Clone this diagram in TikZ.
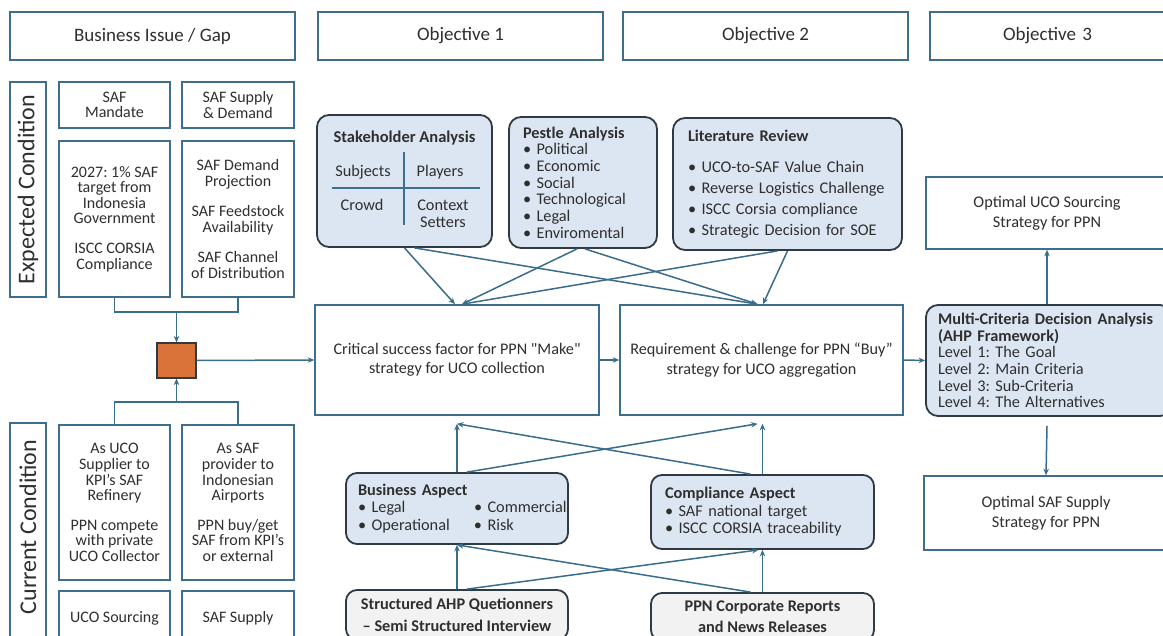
\documentclass[tikz,border=0pt]{standalone}
\usepackage{fontspec}
\setmainfont{Carlito}
\frenchspacing
\usetikzlibrary{arrows.meta,calc}
\definecolor{bd}{HTML}{3F6E8C}
\definecolor{dk}{HTML}{2E3A44}
\definecolor{lb}{HTML}{DCE6F2}
\definecolor{gy}{HTML}{F2F2F2}
\definecolor{tx}{HTML}{2F2F2F}
\definecolor{og}{HTML}{D9733A}
\definecolor{ar}{HTML}{3A6C8C}
\begin{document}
\begin{tikzpicture}[x=1pt,y=-1pt,
 every node/.style={text=tx},
 wh/.style 2 args={minimum width=#1pt,minimum height=#2pt},
 sqb/.style={draw=bd,line width=1.6pt,fill=white,inner sep=0pt,align=center,font=\fontsize{16}{15.6}\selectfont},
 hdr/.style={sqb,font=\fontsize{19}{22}\selectfont},
 rnd/.style={draw=dk,line width=1.8pt,fill=lb,rounded corners=12pt,inner sep=0pt},
 lst/.style={rnd,align=left},
 src/.style={rnd,fill=gy,align=center,font=\fontsize{16.3}{22}\selectfont\bfseries},
 arr/.style={draw=ar,line width=1.5pt,-{Stealth[length=6.5pt,width=5.5pt]}},
 ln/.style={draw=ar,line width=1.5pt},
 gridl/.style={draw=bd,line width=1.6pt},
 sidet/.style={font=\fontsize{24}{26}\selectfont,rotate=90},
 gtxt/.style={font=\fontsize{16.3}{17}\selectfont,align=center}
]
\useasboundingbox (0,0) rectangle (1163,636);
\clip (0,0) rectangle (1163,636);
\fill[white] (0,0) rectangle (1163,636);

% headers
\node[hdr,wh={285}{48}] (hb) at (152.5,36) {Business Issue / Gap};
\node[hdr,wh={285}{48}] (h1) at (460.5,36) {Objective 1};
\node[hdr,wh={285}{48}] (h2) at (765.5,36) {Objective 2};
\node[hdr,wh={245}{48},text width=225pt] (h3) at (1052.5,36) {\hspace*{-10pt}Objective 3};

% left column, expected
\node[sqb,wh={36}{215}] (expc) at (28,189.5) {};
\node[sidet] (expct) at (expc.center) {Expected Condition};
\node[sqb,wh={111}{46}] (bman) at (114.5,105) {SAF\\Mandate};
\node[sqb,wh={112}{46}] (bsd) at (238,105) {SAF Supply\\\& Demand};
\node[sqb,wh={111}{156}] (b2027) at (114.5,219) {2027: 1\% SAF\\target from\\Indonesia\\Government\\[14pt]ISCC CORSIA\\Compliance};
\node[sqb,wh={112}{156}] (bdem) at (238,219) {SAF Demand\\Projection\\[15pt]SAF Feedstock\\Availability\\[15pt]SAF Channel\\of Distribution};

% orange square
\node[draw=dk,line width=1.2pt,fill=og,wh={39}{35},inner sep=0pt] (sq) at (176.5,360.5) {};
\coordinate (j1) at (176.5,312);
\coordinate (j2) at (176.5,402);

% left column, current
\node[sqb,wh={36}{217}] (curc) at (28,531.5) {};
\node[sidet] (curct) at (28,527) {Current Condition};
\node[sqb,wh={111}{155}] (buco) at (114.5,502.5) {As UCO\\Supplier to\\KPI's SAF\\Refinery\\[14pt]PPN compete\\with private\\UCO Collector};
\node[sqb,wh={112}{155}] (bsaf) at (238,502.5) {As SAF\\provider to\\Indonesian\\Airports\\[14pt]PPN buy/get\\SAF from KPI's\\or external};
\node[sqb,wh={111}{54}] (bucs) at (114.5,618) {UCO Sourcing};
\node[sqb,wh={112}{54}] (bss) at (238,618) {SAF Supply};

% top analysis boxes
\node[rnd,wh={175}{132}] (sh) at (404.5,181) {};
\node[font=\fontsize{16.5}{17}\selectfont\bfseries] (sht) at (404.5,138) {Stakeholder Analysis};
\draw[gridl] (404,152) -- (404,225);
\draw[gridl] (332,188) -- (480,188);
\node[gtxt] (shs) at (363,172) {Subjects};
\node[gtxt] (shp) at (440,172) {Players};
\node[gtxt] (shc) at (362,205) {Crowd};
\node[gtxt] (shx) at (443,214) {Context\\Setters};

\node[lst,wh={148}{131},text width=120pt,inner xsep=14pt,font=\fontsize{16.3}{16.7}\selectfont] (pe) at (583,182.5)
 {\textbf{Pestle Analysis}\\\textbullet\ Political\\\textbullet\ Economic\\\textbullet\ Social\\\textbullet\ Technological\\\textbullet\ Legal\\\textbullet\ Enviromental};

\node[lst,wh={229}{132},text width=199pt,inner xsep=15pt,font=\fontsize{16.3}{21}\selectfont] (lit) at (787.5,184)
 {\textbf{Literature Review}\\[10pt]\textbullet\ UCO-to-SAF Value Chain\\\textbullet\ Reverse Logistics Challenge\\\textbullet\ ISCC Corsia compliance\\\textbullet\ Strategic Decision for SOE};

% middle boxes
\node[sqb,wh={284}{110},font=\fontsize{16.2}{19.5}\selectfont] (o1) at (457,360) {Critical success factor for PPN \textquotedbl Make\textquotedbl\\strategy for UCO collection};
\node[sqb,wh={283}{110},font=\fontsize{16.2}{19.5}\selectfont] (o2) at (761.5,360) {Requirement \& challenge for PPN “Buy”\\strategy for UCO aggregation};

\node[lst,wh={246}{111},text width=222pt,inner xsep=12pt,font=\fontsize{16.3}{16.6}\selectfont] (mc) at (1049,360.5)
 {\textbf{Multi-Criteria Decision Analysis}\\\textbf{(AHP Framework)}\\Level 1: The Goal\\Level 2: Main Criteria\\Level 3: Sub-Criteria\\Level 4: The Alternatives};

\node[sqb,wh={242}{72},font=\fontsize{16.3}{20}\selectfont] (uco) at (1047,213) {Optimal UCO Sourcing\\Strategy for PPN};
\node[sqb,wh={244}{74},font=\fontsize{16.3}{20}\selectfont] (saf) at (1046,513) {Optimal SAF Supply\\Strategy for PPN};

% aspects
\node[lst,rounded corners=11pt,wh={222}{71},text width=198pt,inner xsep=12pt,font=\fontsize{16.3}{17.5}\selectfont] (bus) at (457,508.5)
 {\textbf{Business Aspect}\\\mbox{\makebox[116pt][l]{\textbullet\ Legal}\textbullet\ Commercial}\\\mbox{\makebox[116pt][l]{\textbullet\ Operational}\textbullet\ Risk}};
\node[lst,rounded corners=11pt,wh={223}{74},text width=195pt,inner xsep=14pt,font=\fontsize{16.3}{17.5}\selectfont] (comp) at (762.5,512)
 {\textbf{Compliance Aspect}\\\textbullet\ SAF national target\\\textbullet\ ISCC CORSIA traceability};

\node[src,rounded corners=11pt,wh={222}{50}] (src1) at (457,615) {Structured AHP Quetionners\\-- Semi Structured Interview};
\node[src,rounded corners=11pt,wh={223}{48},font=\fontsize{16.3}{21}\selectfont\bfseries] (src2) at (762.5,617) {PPN Corporate Reports\\and News Releases};

% connectors left
\draw[ln] (b2027.south) |- (j1);
\draw[ln] (bdem.south) |- (j1);
\draw[arr] (j1) -- (sq.north);
\draw[ln] (buco.north) |- (j2);
\draw[ln] (bsaf.north) |- (j2);
\draw[arr] (j2) -- (sq.south);
\draw[arr] (sq.east) -- (o1.west);

% top arrows
\draw[arr] (sh.south) -- ([xshift=-2pt]o1.north);
\draw[arr] ([xshift=10pt]sh.south) -- ([xshift=-4pt]o2.north);
\draw[arr] ([xshift=-6pt]pe.south) -- ([xshift=5pt]o1.north);
\draw[arr] ([xshift=2pt]pe.south) -- ([xshift=-4pt]o2.north);
\draw[arr] ([xshift=-10pt]lit.south) -- ([xshift=5pt]o1.north);
\draw[arr] (lit.south) -- ([xshift=1.5pt]o2.north);

% horizontal flow
\draw[arr] (o1.east) -- (o2.west);
\draw[arr] (o2.east) -- (mc.west);
\draw[arr] ([xshift=-2pt]mc.north) -- (uco.south);
\draw[arr] ([xshift=-2pt,yshift=-9pt]mc.south) -- (saf.north);

% bottom arrows
\draw[arr] (bus.north) -- ([yshift=-8pt]o1.south);
\draw[arr] ([xshift=10pt]bus.north) -- ([xshift=-4pt,yshift=-8pt]o2.south);
\draw[arr] (comp.north) -- ([xshift=1pt,yshift=-8pt]o2.south);
\draw[arr] ([xshift=-12pt]comp.north) -- ([yshift=-8pt]o1.south);
\draw[arr] (src1.north) -- (bus.south);
\draw[arr] ([xshift=10pt]src1.north) -- ([xshift=-4pt]comp.south);
\draw[arr] (src2.north) -- (comp.south);
\draw[arr] ([xshift=-12pt]src2.north) -- (bus.south);
\end{tikzpicture}
\end{document}
